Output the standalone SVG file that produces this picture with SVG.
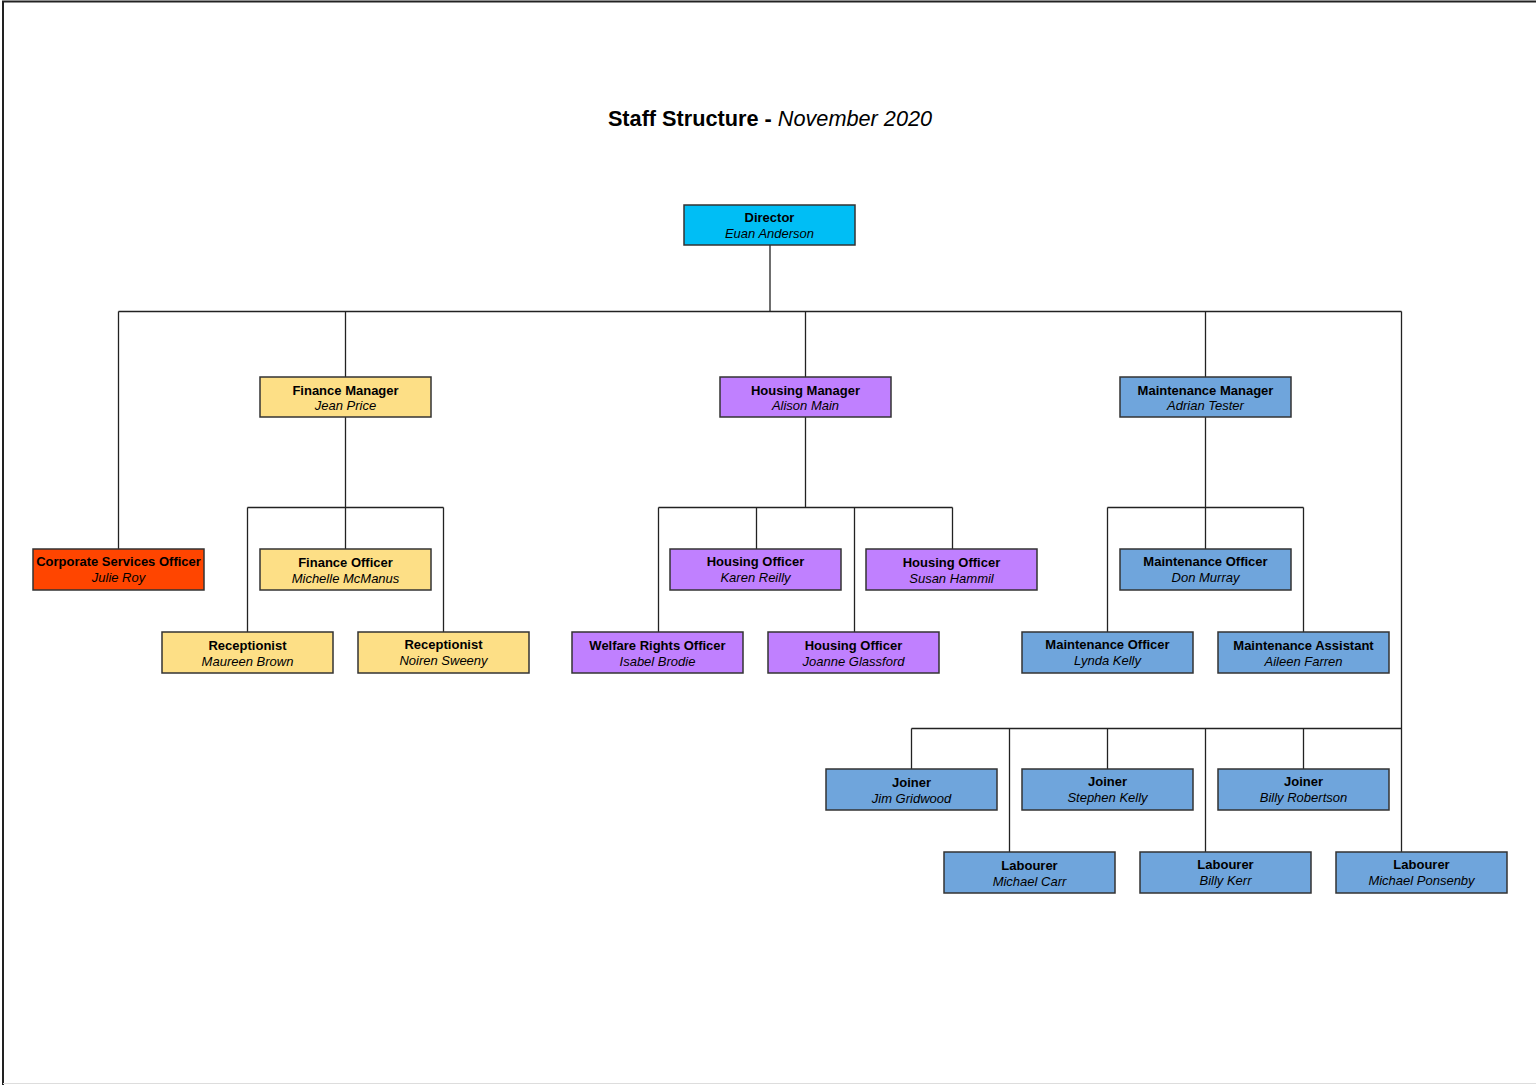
<svg xmlns="http://www.w3.org/2000/svg" width="1536" height="1085" viewBox="0 0 1536 1085">
<style>
.b{stroke:#333;stroke-width:1.5}
.dir{fill:#00BEF5}.fin{fill:#FDDF86}.hou{fill:#C080FF}.mai{fill:#6FA5DC}.cor{fill:#FF4500}
.t{font-family:"Liberation Sans",Arial,sans-serif;font-weight:bold;font-size:13px;text-anchor:middle;fill:#000}
.n{font-family:"Liberation Sans",Arial,sans-serif;font-style:italic;font-size:13px;text-anchor:middle;fill:#000}
.c{stroke:#222;stroke-width:1.3;fill:none}
</style>
<rect x="0" y="0" width="1536" height="1085" fill="#fff"/>
<path d="M3,1085 V1.5 H1536" stroke="#222" stroke-width="2" fill="none"/>
<line x1="3" y1="1083.5" x2="1536" y2="1083.5" stroke="#ddd" stroke-width="1"/>
<text x="770" y="126" font-family="Liberation Sans,Arial,sans-serif" font-size="21.7" text-anchor="middle"><tspan font-weight="bold">Staff Structure - </tspan><tspan font-style="italic">November 2020</tspan></text>
<g id="connectors" class="c">
<path d="M770,245 V311.5 M118.5,311.5 H1401.5 M118.5,311.5 V549 M345.5,311.5 V377 M805.5,311.5 V377 M1205.5,311.5 V377 M1401.5,311.5 V852"/>
<path d="M345.5,417 V507.5 M247.5,507.5 H443.5 M247.5,507.5 V632 M345.5,507.5 V549 M443.5,507.5 V632"/>
<path d="M805.5,417 V507.5 M658.5,507.5 H952.5 M658.5,507.5 V632 M756.5,507.5 V549 M854.5,507.5 V632 M952.5,507.5 V549"/>
<path d="M1205.5,417 V507.5 M1107.5,507.5 H1303.5 M1107.5,507.5 V632 M1205.5,507.5 V549 M1303.5,507.5 V632"/>
<path d="M911.5,728.5 H1401.5 M911.5,728.5 V769 M1009.5,728.5 V852 M1107.5,728.5 V769 M1205.5,728.5 V852 M1303.5,728.5 V769"/>
</g>
<g id="director"><rect class="b dir" x="684" y="205" width="171" height="40"/><text class="t" x="769.5" y="222">Director</text><text class="n" x="769.5" y="238">Euan Anderson</text></g>
<g id="finance-manager"><rect class="b fin" x="260" y="377" width="171" height="40"/><text class="t" x="345.5" y="395">Finance Manager</text><text class="n" x="345.5" y="410">Jean Price</text></g>
<g id="housing-manager"><rect class="b hou" x="720" y="377" width="171" height="40"/><text class="t" x="805.5" y="395">Housing Manager</text><text class="n" x="805.5" y="410">Alison Main</text></g>
<g id="maintenance-manager"><rect class="b mai" x="1120" y="377" width="171" height="40"/><text class="t" x="1205.5" y="395">Maintenance Manager</text><text class="n" x="1205.5" y="410">Adrian Tester</text></g>
<g id="corporate-services"><rect class="b cor" x="33" y="549" width="171" height="41"/><text class="t" x="118.5" y="566">Corporate Services Officer</text><text class="n" x="118.5" y="582">Julie Roy</text></g>
<g id="finance-officer"><rect class="b fin" x="260" y="549" width="171" height="41"/><text class="t" x="345.5" y="567">Finance Officer</text><text class="n" x="345.5" y="583">Michelle McManus</text></g>
<g id="receptionist-1"><rect class="b fin" x="162" y="632" width="171" height="41"/><text class="t" x="247.5" y="650">Receptionist</text><text class="n" x="247.5" y="666">Maureen Brown</text></g>
<g id="receptionist-2"><rect class="b fin" x="358" y="632" width="171" height="41"/><text class="t" x="443.5" y="649">Receptionist</text><text class="n" x="443.5" y="665">Noiren Sweeny</text></g>
<g id="housing-officer-karen"><rect class="b hou" x="670" y="549" width="171" height="41"/><text class="t" x="755.5" y="566">Housing Officer</text><text class="n" x="755.5" y="582">Karen Reilly</text></g>
<g id="housing-officer-susan"><rect class="b hou" x="866" y="549" width="171" height="41"/><text class="t" x="951.5" y="567">Housing Officer</text><text class="n" x="951.5" y="583">Susan Hammil</text></g>
<g id="welfare-rights"><rect class="b hou" x="572" y="632" width="171" height="41"/><text class="t" x="657.5" y="650">Welfare Rights Officer</text><text class="n" x="657.5" y="666">Isabel Brodie</text></g>
<g id="housing-officer-joanne"><rect class="b hou" x="768" y="632" width="171" height="41"/><text class="t" x="853.5" y="650">Housing Officer</text><text class="n" x="853.5" y="666">Joanne Glassford</text></g>
<g id="maintenance-officer-don"><rect class="b mai" x="1120" y="549" width="171" height="41"/><text class="t" x="1205.5" y="566">Maintenance Officer</text><text class="n" x="1205.5" y="582">Don Murray</text></g>
<g id="maintenance-officer-lynda"><rect class="b mai" x="1022" y="632" width="171" height="41"/><text class="t" x="1107.5" y="649">Maintenance Officer</text><text class="n" x="1107.5" y="665">Lynda Kelly</text></g>
<g id="maintenance-assistant"><rect class="b mai" x="1218" y="632" width="171" height="41"/><text class="t" x="1303.5" y="650">Maintenance Assistant</text><text class="n" x="1303.5" y="666">Aileen Farren</text></g>
<g id="joiner-jim"><rect class="b mai" x="826" y="769" width="171" height="41"/><text class="t" x="911.5" y="787">Joiner</text><text class="n" x="911.5" y="803">Jim Gridwood</text></g>
<g id="joiner-stephen"><rect class="b mai" x="1022" y="769" width="171" height="41"/><text class="t" x="1107.5" y="786">Joiner</text><text class="n" x="1107.5" y="802">Stephen Kelly</text></g>
<g id="joiner-billy"><rect class="b mai" x="1218" y="769" width="171" height="41"/><text class="t" x="1303.5" y="786">Joiner</text><text class="n" x="1303.5" y="802">Billy Robertson</text></g>
<g id="labourer-michael-carr"><rect class="b mai" x="944" y="852" width="171" height="41"/><text class="t" x="1029.5" y="870">Labourer</text><text class="n" x="1029.5" y="886">Michael Carr</text></g>
<g id="labourer-billy-kerr"><rect class="b mai" x="1140" y="852" width="171" height="41"/><text class="t" x="1225.5" y="869">Labourer</text><text class="n" x="1225.5" y="885">Billy Kerr</text></g>
<g id="labourer-michael-ponsenby"><rect class="b mai" x="1336" y="852" width="171" height="41"/><text class="t" x="1421.5" y="869">Labourer</text><text class="n" x="1421.5" y="885">Michael Ponsenby</text></g>
</svg>
